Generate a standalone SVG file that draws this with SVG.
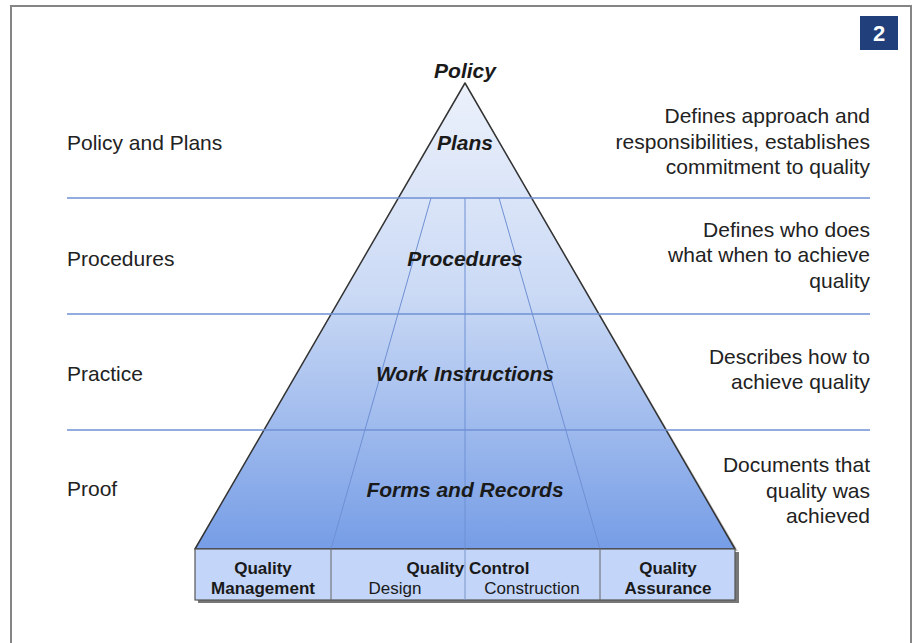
<svg xmlns="http://www.w3.org/2000/svg" width="915" height="643" viewBox="0 0 915 643">
<defs>
<linearGradient id="pg" x1="0" y1="83" x2="0" y2="549" gradientUnits="userSpaceOnUse">
<stop offset="0" stop-color="#ecf1fb"/>
<stop offset="0.45" stop-color="#cbdaf5"/>
<stop offset="1" stop-color="#769de6"/>
</linearGradient>
<style>
.lbl{font-family:"Liberation Sans",Arial,sans-serif;font-size:21px;fill:#222}
.r{text-anchor:end}
.pl{font-family:"Liberation Sans",Arial,sans-serif;font-size:21px;font-weight:bold;font-style:italic;fill:#1a1a1a;text-anchor:middle}
.bx{font-family:"Liberation Sans",Arial,sans-serif;font-size:17px;fill:#1a1a1a;text-anchor:middle}
.b{font-weight:bold}
.band{stroke:#6f90d4;stroke-width:1.3}
.div{stroke:#6f90d4;stroke-width:1}
</style>
</defs>
<rect width="915" height="643" fill="#ffffff"/>
<path d="M11 643 V6 H911 V643" fill="none" stroke="#858585" stroke-width="2"/>
<g id="badge">
<rect x="860" y="16" width="38" height="34" fill="#213f7b"/>
<text x="879" y="41" font-family="Liberation Sans,Arial,sans-serif" font-size="22" font-weight="bold" fill="#ffffff" text-anchor="middle">2</text>
</g>
<g id="pyramid">
<polygon points="467,86 198,551 738,551" fill="#555" opacity="0.35"/>
<polygon points="465,83 195,549 735,549" fill="url(#pg)" stroke="#333" stroke-width="1.5" stroke-linejoin="round"/>
</g>
<g id="connectors">
<line class="band" x1="67" y1="198" x2="870" y2="198"/>
<line class="band" x1="67" y1="314" x2="870" y2="314"/>
<line class="band" x1="67" y1="430" x2="870" y2="430"/>
<line class="div" x1="431" y1="198" x2="331" y2="549"/>
<line class="div" x1="465" y1="198" x2="465" y2="549"/>
<line class="div" x1="499" y1="198" x2="600" y2="549"/>
</g>
<g id="pyramid-labels">
<text class="pl" x="465" y="78">Policy</text>
<text class="pl" x="465" y="150">Plans</text>
<text class="pl" x="465" y="266">Procedures</text>
<text class="pl" x="465" y="381">Work Instructions</text>
<text class="pl" x="465" y="497">Forms and Records</text>
</g>
<g id="left-labels">
<text class="lbl" x="67" y="150">Policy and Plans</text>
<text class="lbl" x="67" y="266">Procedures</text>
<text class="lbl" x="67" y="381">Practice</text>
<text class="lbl" x="67" y="496">Proof</text>
</g>
<g id="right-labels">
<text class="lbl r" x="870" y="123">Defines approach and</text>
<text class="lbl r" x="870" y="149">responsibilities, establishes</text>
<text class="lbl r" x="870" y="174">commitment to quality</text>
<text class="lbl r" x="870" y="237">Defines who does</text>
<text class="lbl r" x="870" y="262">what when to achieve</text>
<text class="lbl r" x="870" y="288">quality</text>
<text class="lbl r" x="870" y="364">Describes how to</text>
<text class="lbl r" x="870" y="389">achieve quality</text>
<text class="lbl r" x="870" y="472">Documents that</text>
<text class="lbl r" x="870" y="498">quality was</text>
<text class="lbl r" x="870" y="523">achieved</text>
</g>
<g id="base-box">
<rect x="198" y="552" width="541" height="51" fill="#777"/>
<rect x="195" y="549" width="540" height="51" fill="#c3d5f8" stroke="#555" stroke-width="1.2"/>
<line x1="331" y1="549" x2="331" y2="600" stroke="#666" stroke-width="1"/>
<line x1="465" y1="549" x2="465" y2="600" stroke="#7a96c8" stroke-width="1"/>
<line x1="600" y1="549" x2="600" y2="600" stroke="#666" stroke-width="1"/>
<text class="bx b" x="263" y="574">Quality</text>
<text class="bx b" x="263" y="594">Management</text>
<text class="bx b" x="468" y="574">Quality Control</text>
<text class="bx" x="395" y="594">Design</text>
<text class="bx" x="532" y="594">Construction</text>
<text class="bx b" x="668" y="574">Quality</text>
<text class="bx b" x="668" y="594">Assurance</text>
</g>
</svg>
